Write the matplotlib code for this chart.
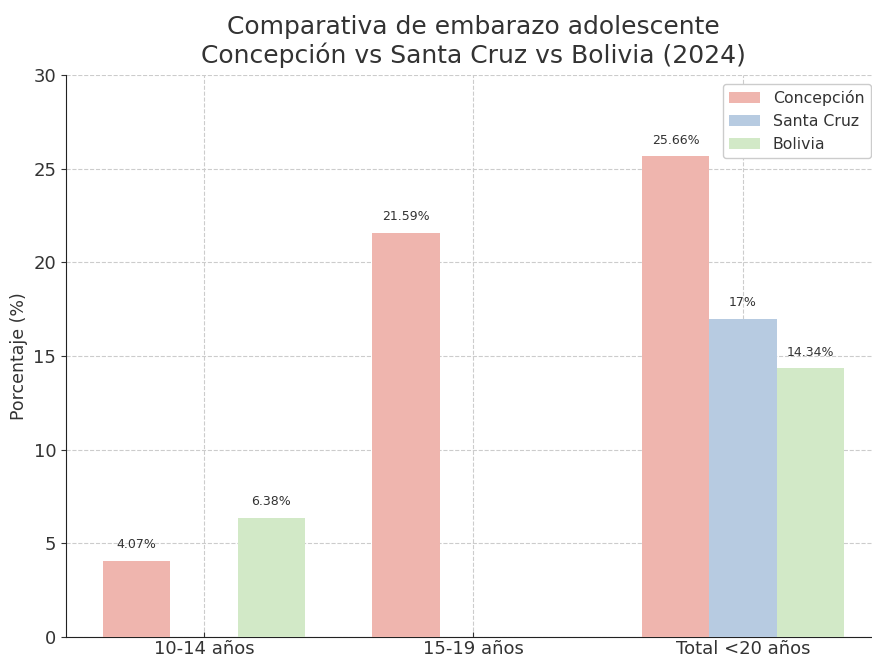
import numpy as np
import matplotlib
matplotlib.use("Agg")
import matplotlib.pyplot as plt

# data
groups = ["10-14 años", "15-19 años", "Total <20 años"]
series = ["Concepción", "Santa Cruz", "Bolivia"]
concepcion = [4.07, 21.59, 25.66]
santa_cruz = [np.nan, np.nan, 17]
bolivia = [6.38, np.nan, 14.34]
colors = ["#efb5ae", "#b7cbe1", "#d2e9c7"]

TXT = "#333333"
plt.rcParams["font.family"] = ["DejaVu Sans"]
plt.rcParams["text.color"] = TXT
plt.rcParams["axes.labelcolor"] = TXT
plt.rcParams["xtick.color"] = TXT
plt.rcParams["ytick.color"] = TXT

fig = plt.figure(figsize=(8.72, 6.6), dpi=100)
ax = fig.add_axes([0.0757, 0.0348, 0.9346, 0.8516])

x = np.arange(len(groups))
width = 0.25
for i, (name, vals, col) in enumerate(zip(series, [concepcion, santa_cruz, bolivia], colors)):
    pos = x + (i - 1) * width
    ax.bar(pos, vals, width, label=name, color=col, zorder=3)
    for p, v in zip(pos, vals):
        if not np.isnan(v):
            ax.text(p, v + 0.5, f"{v:g}%", ha="center", va="bottom",
                    fontsize=9, color=TXT, zorder=4)

ax.set_xticks(x)
ax.set_xticklabels(groups, fontsize=13)
ax.tick_params(axis="x", direction="in", pad=2)
ax.set_ylim(0, 30)
ax.tick_params(axis="y", labelsize=13)
ax.set_ylabel("Porcentaje (%)", fontsize=12.5)
ax.set_title("Comparativa de embarazo adolescente\nConcepción vs Santa Cruz vs Bolivia (2024)",
             fontsize=18, color=TXT, pad=8.5)
ax.grid(True, linestyle="--", color="#cccccc", linewidth=0.8, zorder=0)
ax.set_axisbelow(True)
for s in ["top", "right"]:
    ax.spines[s].set_visible(False)
ax.spines["left"].set_color("#222222")
ax.spines["bottom"].set_color("#222222")

leg = ax.legend(loc="upper right", fontsize=11.3, framealpha=1, edgecolor="#cccccc",
                borderaxespad=0.5, bbox_to_anchor=(0.997, 0.998))
for t in leg.get_texts():
    t.set_color(TXT)

fig.savefig("out.png", dpi=100)
